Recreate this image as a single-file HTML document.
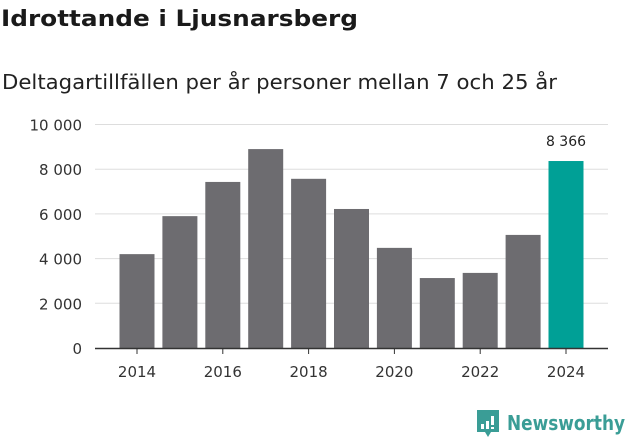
<!DOCTYPE html>
<html><head><meta charset="utf-8"><style>
body{margin:0;width:631px;height:439px;background:#fff;font-family:"DejaVu Sans","Liberation Sans",sans-serif;overflow:hidden}
</style></head><body>
<svg width="631" height="439">
<text x="1" y="26" font-size="22" font-weight="bold" fill="#1a1a1a" textLength="357" lengthAdjust="spacingAndGlyphs">Idrottande i Ljusnarsberg</text>
<text x="2" y="89" font-size="20" fill="#222" textLength="555" lengthAdjust="spacingAndGlyphs">Deltagartillfällen per år personer mellan 7 och 25 år</text>
<g id="grid"></g>
<g id="bars"></g>
<g id="xt"></g>
<g>
<path d="M477 410h22v22h-8l-3 5-3-5h-8z" fill="#3a9d96"/>
<rect x="481" y="424" width="3" height="5" fill="#fff"/><rect x="486" y="421" width="3" height="8" fill="#fff"/><rect x="491" y="416" width="3" height="9" fill="#fff"/><rect x="491" y="427" width="3" height="2" fill="#fff"/>
<text x="507" y="430" font-size="20" font-weight="bold" fill="#3a9d96" textLength="118" lengthAdjust="spacingAndGlyphs">Newsworthy</text>
</g>
</svg>
<script>
const years=[2014,2015,2016,2017,2018,2019,2020,2021,2022,2023,2024];
const values=[4200,5900,7430,8900,7570,6220,4480,3130,3360,5060,8366];
const yTicks=[0,2000,4000,6000,8000,10000];
const xTicks=[2014,2016,2018,2020,2022,2024];
const NS='http://www.w3.org/2000/svg';
const y=v=>348-v*0.02235;
const x=yr=>137+(yr-2014)*42.9;
const fmt=v=>v.toLocaleString('en').replace(/,/g,' ');
function el(t,a,p){const e=document.createElementNS(NS,t);for(const k in a)e.setAttribute(k,a[k]);p.appendChild(e);return e;}
const g=document.getElementById('grid'),b=document.getElementById('bars'),xt=document.getElementById('xt');
yTicks.forEach(v=>{
 if(v>0){const l=el('line',{x1:95,x2:608,y1:y(v),y2:y(v),stroke:'#ddd'},g);
 
 }
 const t=el('text',{x:82,y:y(v)+6,'text-anchor':'end','font-size':15,fill:'#333'},g);t.textContent=fmt(v);
 
 
});
years.forEach((yr,i)=>{
 const last=i===years.length-1;
 const r=el('rect',{x:x(yr)-17.5,y:y(values[i]),width:35,height:348-y(values[i]),fill:last?'#00a096':'#6d6c70'},b);
 
 
 if(last){const t=el('text',{x:x(yr),y:y(values[i])-15,'text-anchor':'middle','font-size':14,fill:'#222'},b);t.textContent=fmt(values[i]);
 
 }
});
const ax=el('line',{x1:95,x2:608,y1:348.5,y2:348.5,stroke:'#333','stroke-width':1.5},xt);


xTicks.forEach(yr=>{
 el('line',{x1:x(yr),x2:x(yr),y1:348,y2:354,stroke:'#333'},xt);
 const t=el('text',{x:x(yr),y:377,'text-anchor':'middle','font-size':15,fill:'#333'},xt);t.textContent=yr;
 
 
});
</script>
</body></html>
